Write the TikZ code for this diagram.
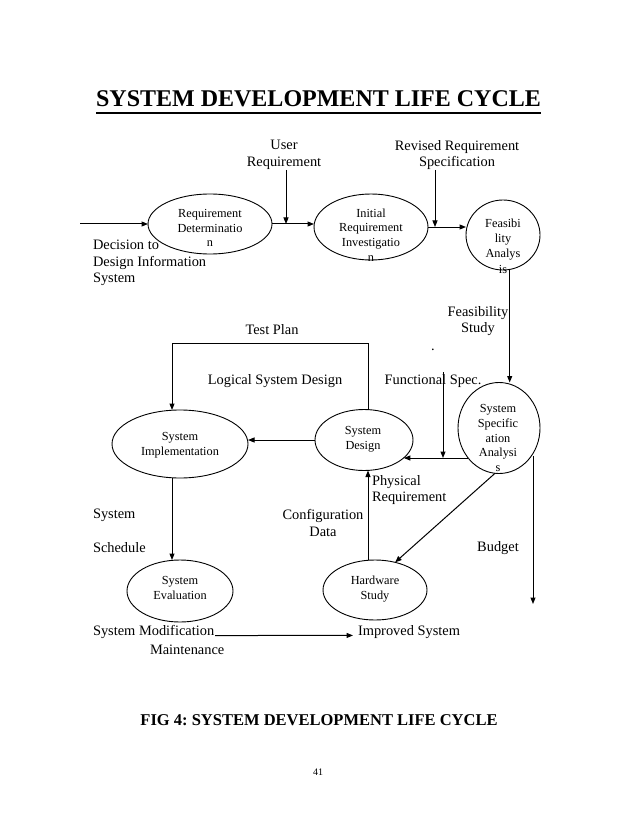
\documentclass[tikz,border=0pt]{standalone}
\usepackage{fontspec}
\setmainfont{Liberation Serif}
\usetikzlibrary{shapes.geometric,arrows.meta}
\frenchspacing
\begin{document}
\begin{tikzpicture}[x=1pt,y=-1pt,
  every node/.style={inner sep=0pt, outer sep=0pt},
  lbl/.style={font=\fontsize{14.4}{16.5}\selectfont, align=center},
  lbll/.style={font=\fontsize{14.4}{16.5}\selectfont, align=left},
  proc/.style={draw, ellipse, line width=0.9pt},
  etxt/.style={font=\fontsize{12.3}{14.7}\selectfont, align=center},
  arr/.style={line width=1pt, -{Triangle[length=6.5pt,width=5pt]}},
  ln/.style={line width=1pt}]
\fill[white] (0,0) rectangle (638,826);
\useasboundingbox (0,0) rectangle (638,826);

% titles
\node[font=\fontsize{24}{28}\selectfont\bfseries] (title) at (318.5,99) {SYSTEM DEVELOPMENT LIFE CYCLE};
\draw[line width=1.8pt] ([yshift=-6.5pt]title.base west) -- ([yshift=-6.5pt]title.base east);
\node[font=\fontsize{16.5}{20}\selectfont\bfseries] (cap) at (319,720) {FIG 4: SYSTEM DEVELOPMENT LIFE CYCLE};
\node[font=\fontsize{10}{12}\selectfont] (pg) at (318,772) {41};

% processes
\node[proc, minimum width=124pt, minimum height=60pt] (rd) at (210,224) {};
\node[etxt] (rdt) at (210,228) {Requirement\\Determinatio\\n};
\node[proc, minimum width=114pt, minimum height=66pt] (ri) at (371,227) {};
\node[etxt] (rit) at (371,235) {Initial\\Requirement\\Investigatio\\n};
\node[proc, minimum width=74pt, minimum height=70pt] (fa) at (503,235) {};
\node[etxt, font=\fontsize{12.3}{15.2}\selectfont] (fat) at (503,246) {Feasibi\\lity\\Analys\\is};
\node[proc, minimum width=82pt, minimum height=91pt] (ss) at (499,428) {};
\node[etxt, font=\fontsize{12.3}{14.8}\selectfont] (sst) at (498,438) {System\\Specific\\ation\\Analysi\\s};
\node[proc, minimum width=98pt, minimum height=61pt] (sd) at (364,440) {};
\node[etxt] (sdt) at (363,439) {System\\Design};
\node[proc, minimum width=136pt, minimum height=68pt] (si) at (180,444) {};
\node[etxt] (sit) at (180,445) {System\\Implementation};
\node[proc, minimum width=106pt, minimum height=62pt] (se) at (180,591) {};
\node[etxt] (set) at (180,588) {System\\Evaluation};
\node[proc, minimum width=104pt, minimum height=60pt] (hw) at (375,590) {};
\node[etxt] (hwt) at (375,589) {Hardware\\Study};

% labels
\node[lbl] (ur) at (284,155) {User\\Requirement};
\node[lbl] (rr) at (457,155) {Revised Requirement\\Specification};
\node[lbll, anchor=west] (dec) at (93,263) {Decision to\\Design Information\\System};
\node[lbl] (fs) at (478,321) {Feasibility\\Study};
\node[lbl] (dot) at (433,350) {.};
\node[lbl] (tp) at (272,330) {Test Plan};
\node[lbl] (lsd) at (275,381) {Logical System Design};
\node[lbl] (fspec) at (433,381) {Functional Spec.};
\node[lbl, anchor=west] (sys) at (93,515) {System};
\node[lbl, anchor=west] (sch) at (93,548) {Schedule};
\node[lbl] (cfg) at (323,523) {Configuration\\Data};
\node[lbll, anchor=west] (phy) at (372,490) {Physical\\Requirement};
\node[lbl] (bud) at (498,548) {Budget};
\node[lbl, anchor=west] (smod) at (93,632) {System Modification};
\node[lbl, anchor=west] (mnt) at (150,650) {Maintenance};
\node[lbl, anchor=west] (imp) at (358,632) {Improved System};

% connectors
\coordinate (inL) at (80,224);
\draw[arr] (inL) -- (rd.west);
\draw[arr] (rd.east) -- (rd.east -| ri.west);
\coordinate (urT) at (286,170);
\draw[arr] (urT) -- (urT |- rd.east);
\draw[arr] (ri.east) -- (ri.east -| fa.west);
\coordinate (rrT) at (435,170);
\draw[arr] (rrT) -- (rrT |- ri.east);
\draw[arr] (fa.-79) -- (fa.-79 |- ss.north);

\coordinate (tpR) at (368,343);
\coordinate (tpL) at (172,343);
\draw[arr] (sd.north -| tpR) -- (tpR) -- (tpL) -- (tpL |- si.north);
\draw[arr] (sd.west) -- (sd.west -| si.east);
\draw[arr] (tpL |- si.south) -- (tpL |- se.north);

\coordinate (fsT) at (443,372);
\coordinate (ssL) at (468,458);
\draw[arr] (fsT) -- (fsT |- ssL);
\draw[arr] (ssL) -- (sd.-24 |- ssL);

\draw[arr] (hw.north -| tpR) -- (sd.south -| tpR);
\draw[arr] (ss.-95) -- (hw.54);

\coordinate (budT) at (533,456);
\coordinate (budB) at (533,604);
\draw[arr] (budT) -- (budB);

\draw[arr] ([xshift=1pt]smod.base east) -- ([xshift=-5pt]imp.base west);
\end{tikzpicture}
\end{document}
